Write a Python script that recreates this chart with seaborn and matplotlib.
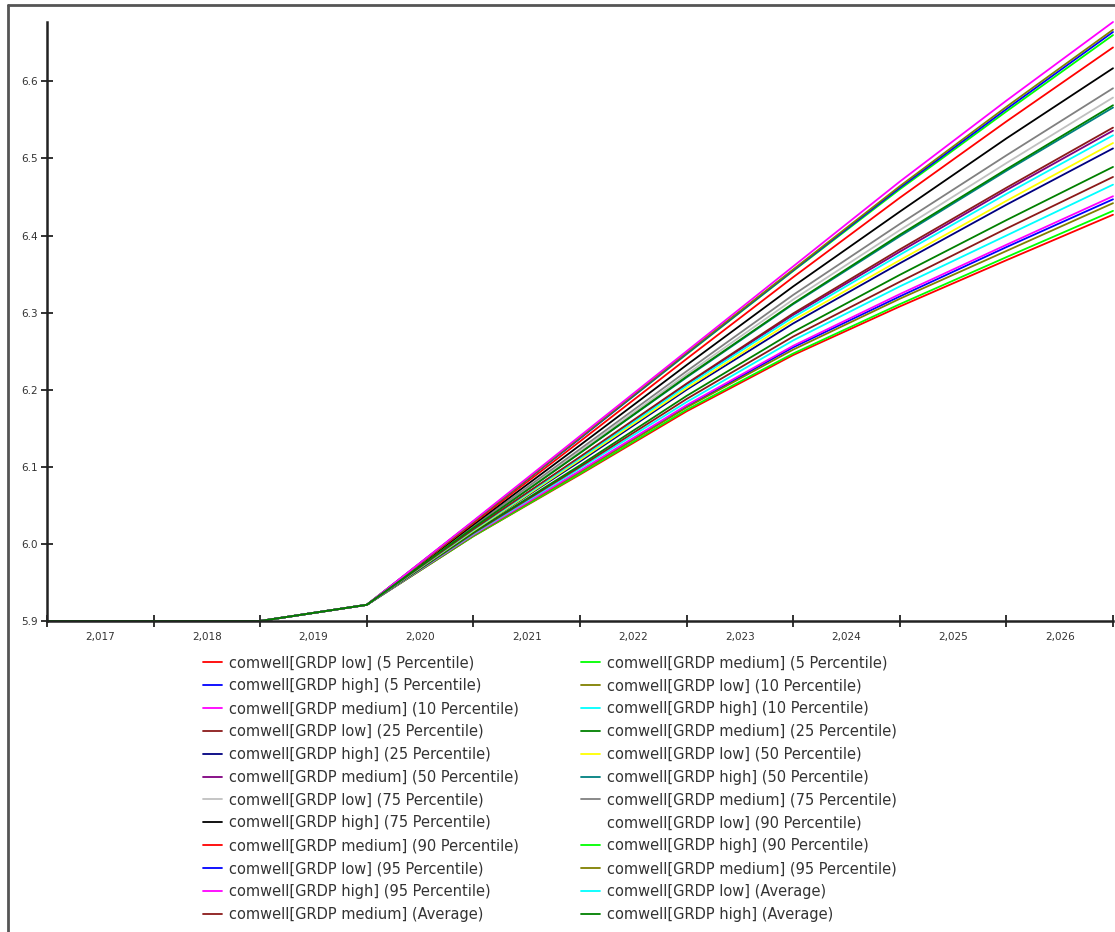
import matplotlib
matplotlib.use("Agg")
import matplotlib.pyplot as plt
import seaborn as sns
import pandas as pd
from matplotlib.lines import Line2D

# ---------------- data ----------------
years = [2016.5, 2017.5, 2018.5, 2019.5, 2020.5, 2021.5, 2022.5, 2023.5, 2024.5, 2025.5, 2026.5]
history = [5.900, 5.900, 5.900, 5.921]

low_5 = [6.010, 6.090, 6.172, 6.245, 6.308, 6.368, 6.427]
medium_5 = [6.010, 6.091, 6.174, 6.247, 6.311, 6.372, 6.432]
high_5 = [6.012, 6.094, 6.178, 6.255, 6.321, 6.385, 6.447]
low_10 = [6.011, 6.093, 6.177, 6.252, 6.318, 6.380, 6.442]
medium_10 = [6.012, 6.095, 6.180, 6.257, 6.324, 6.388, 6.451]
high_10 = [6.013, 6.098, 6.184, 6.264, 6.334, 6.400, 6.466]
low_25 = [6.014, 6.100, 6.188, 6.269, 6.340, 6.409, 6.476]
medium_25 = [6.015, 6.102, 6.192, 6.275, 6.349, 6.420, 6.489]
high_25 = [6.017, 6.107, 6.200, 6.286, 6.364, 6.440, 6.513]
low_50 = [6.017, 6.109, 6.202, 6.290, 6.368, 6.445, 6.520]
medium_50 = [6.019, 6.112, 6.207, 6.297, 6.379, 6.459, 6.536]
high_50 = [6.021, 6.118, 6.216, 6.311, 6.399, 6.484, 6.566]
low_75 = [6.022, 6.120, 6.220, 6.317, 6.407, 6.494, 6.579]
medium_75 = [6.023, 6.123, 6.224, 6.323, 6.415, 6.504, 6.591]
high_75 = [6.025, 6.128, 6.232, 6.334, 6.431, 6.526, 6.617]
low_90 = [6.028, 6.136, 6.244, 6.351, 6.456, 6.557, 6.655]
medium_90 = [6.027, 6.133, 6.240, 6.346, 6.449, 6.548, 6.644]
high_90 = [6.029, 6.137, 6.246, 6.354, 6.460, 6.561, 6.660]
low_95 = [6.029, 6.137, 6.247, 6.355, 6.462, 6.564, 6.664]
medium_95 = [6.029, 6.138, 6.248, 6.356, 6.464, 6.567, 6.667]
high_95 = [6.030, 6.140, 6.250, 6.360, 6.470, 6.575, 6.677]
low_avg = [6.018, 6.111, 6.205, 6.294, 6.375, 6.454, 6.530]
medium_avg = [6.019, 6.113, 6.208, 6.299, 6.382, 6.462, 6.540]
high_avg = [6.021, 6.118, 6.217, 6.312, 6.401, 6.486, 6.569]

series_labels = [
    "comwell[GRDP low] (5 Percentile)", "comwell[GRDP medium] (5 Percentile)",
    "comwell[GRDP high] (5 Percentile)", "comwell[GRDP low] (10 Percentile)",
    "comwell[GRDP medium] (10 Percentile)", "comwell[GRDP high] (10 Percentile)",
    "comwell[GRDP low] (25 Percentile)", "comwell[GRDP medium] (25 Percentile)",
    "comwell[GRDP high] (25 Percentile)", "comwell[GRDP low] (50 Percentile)",
    "comwell[GRDP medium] (50 Percentile)", "comwell[GRDP high] (50 Percentile)",
    "comwell[GRDP low] (75 Percentile)", "comwell[GRDP medium] (75 Percentile)",
    "comwell[GRDP high] (75 Percentile)", "comwell[GRDP low] (90 Percentile)",
    "comwell[GRDP medium] (90 Percentile)", "comwell[GRDP high] (90 Percentile)",
    "comwell[GRDP low] (95 Percentile)", "comwell[GRDP medium] (95 Percentile)",
    "comwell[GRDP high] (95 Percentile)", "comwell[GRDP low] (Average)",
    "comwell[GRDP medium] (Average)", "comwell[GRDP high] (Average)",
]
series_values = [low_5, medium_5, high_5, low_10, medium_10, high_10,
                 low_25, medium_25, high_25, low_50, medium_50, high_50,
                 low_75, medium_75, high_75, low_90, medium_90, high_90,
                 low_95, medium_95, high_95, low_avg, medium_avg, high_avg]
series_colors = ["#FF0000", "#00FF00", "#0000FF", "#808000", "#FF00FF", "#00FFFF",
                 "#8B1A1A", "#008000", "#000080", "#FFFF00", "#800080", "#008080",
                 "#C0C0C0", "#808080", "#000000", "#FFFFFF",
                 "#FF0000", "#00FF00", "#0000FF", "#808000", "#FF00FF", "#00FFFF",
                 "#8B1A1A", "#008000"]

x_tick_labels = ["2,017", "2,018", "2,019", "2,020", "2,021", "2,022",
                 "2,023", "2,024", "2,025", "2,026"]
x_label_pos = [2017, 2018, 2019, 2020, 2021, 2022, 2023, 2024, 2025, 2026]
y_ticks = [5.9, 6.0, 6.1, 6.2, 6.3, 6.4, 6.5, 6.6]

rows = []
for lab, vals in zip(series_labels, series_values):
    for x, v in zip(years, history + vals):
        rows.append({"year": x, "value": v, "series": lab})
df = pd.DataFrame(rows)

# ---------------- plot ----------------
sns.set_style("white")
plt.rcParams["font.family"] = ["DejaVu Sans"]

fig = plt.figure(figsize=(11.15, 9.32), dpi=100)
ax = fig.add_axes([47 / 1115, 1 - 621 / 932, (1113 - 47) / 1115, (621 - 22) / 932])

palette = dict(zip(series_labels, series_colors))
sns.lineplot(data=df, x="year", y="value", hue="series", hue_order=series_labels,
             palette=palette, estimator=None, legend=False, linewidth=1.3, ax=ax)
for ln in ax.lines:
    ln.set_clip_on(False)

ax.set_xlim(2016.5, 2026.5)
ax.set_ylim(5.9, 6.677)
ax.set_xlabel("")
ax.set_ylabel("")

for s in ["top", "right"]:
    ax.spines[s].set_visible(False)
for s in ["left", "bottom"]:
    ax.spines[s].set_color("#222222")
    ax.spines[s].set_linewidth(1.8)

ax.set_xticks(years)
ax.set_xticklabels([])
ax.set_xticks(x_label_pos, minor=True)
ax.set_xticklabels(x_tick_labels, minor=True)
ax.tick_params(axis="x", which="major", bottom=True, direction="inout", length=9,
               width=1.3, color="#222222")
ax.tick_params(axis="x", which="minor", bottom=True, length=0, labelsize=7.5,
               labelcolor="#333333", pad=8)

ax.set_yticks(y_ticks)
ax.set_yticklabels([f"{v:.1f}" for v in y_ticks])
ax.tick_params(axis="y", which="major", left=True, direction="inout", length=9, width=1.3,
               color="#222222", labelsize=7.5, labelcolor="#333333", pad=2)

# legends: two columns, row-major order
handles = [Line2D([0], [0], color=c, lw=1.3) for c in series_colors]
left_idx = list(range(0, 24, 2))
right_idx = list(range(1, 24, 2))
common = dict(frameon=False, fontsize=10.5, handlelength=1.3, handletextpad=0.45,
              labelspacing=0.54, borderpad=0, loc="upper left")
leg1 = fig.legend([handles[i] for i in left_idx], [series_labels[i] for i in left_idx],
                  bbox_to_anchor=(196 / 1115, 1 - 648 / 932), **common)
leg2 = fig.legend([handles[i] for i in right_idx], [series_labels[i] for i in right_idx],
                  bbox_to_anchor=(574 / 1115, 1 - 648 / 932), **common)
for lg in (leg1, leg2):
    for t in lg.get_texts():
        t.set_color("#333333")

# outer frame (left and top edges visible)
fig.add_artist(Line2D([8 / 1115, 8 / 1115], [0, 1 - 5 / 932], transform=fig.transFigure,
                      color="#555555", lw=2))
fig.add_artist(Line2D([8 / 1115, 1], [1 - 5 / 932, 1 - 5 / 932], transform=fig.transFigure,
                      color="#555555", lw=2))

fig.savefig("out.png", dpi=100)
